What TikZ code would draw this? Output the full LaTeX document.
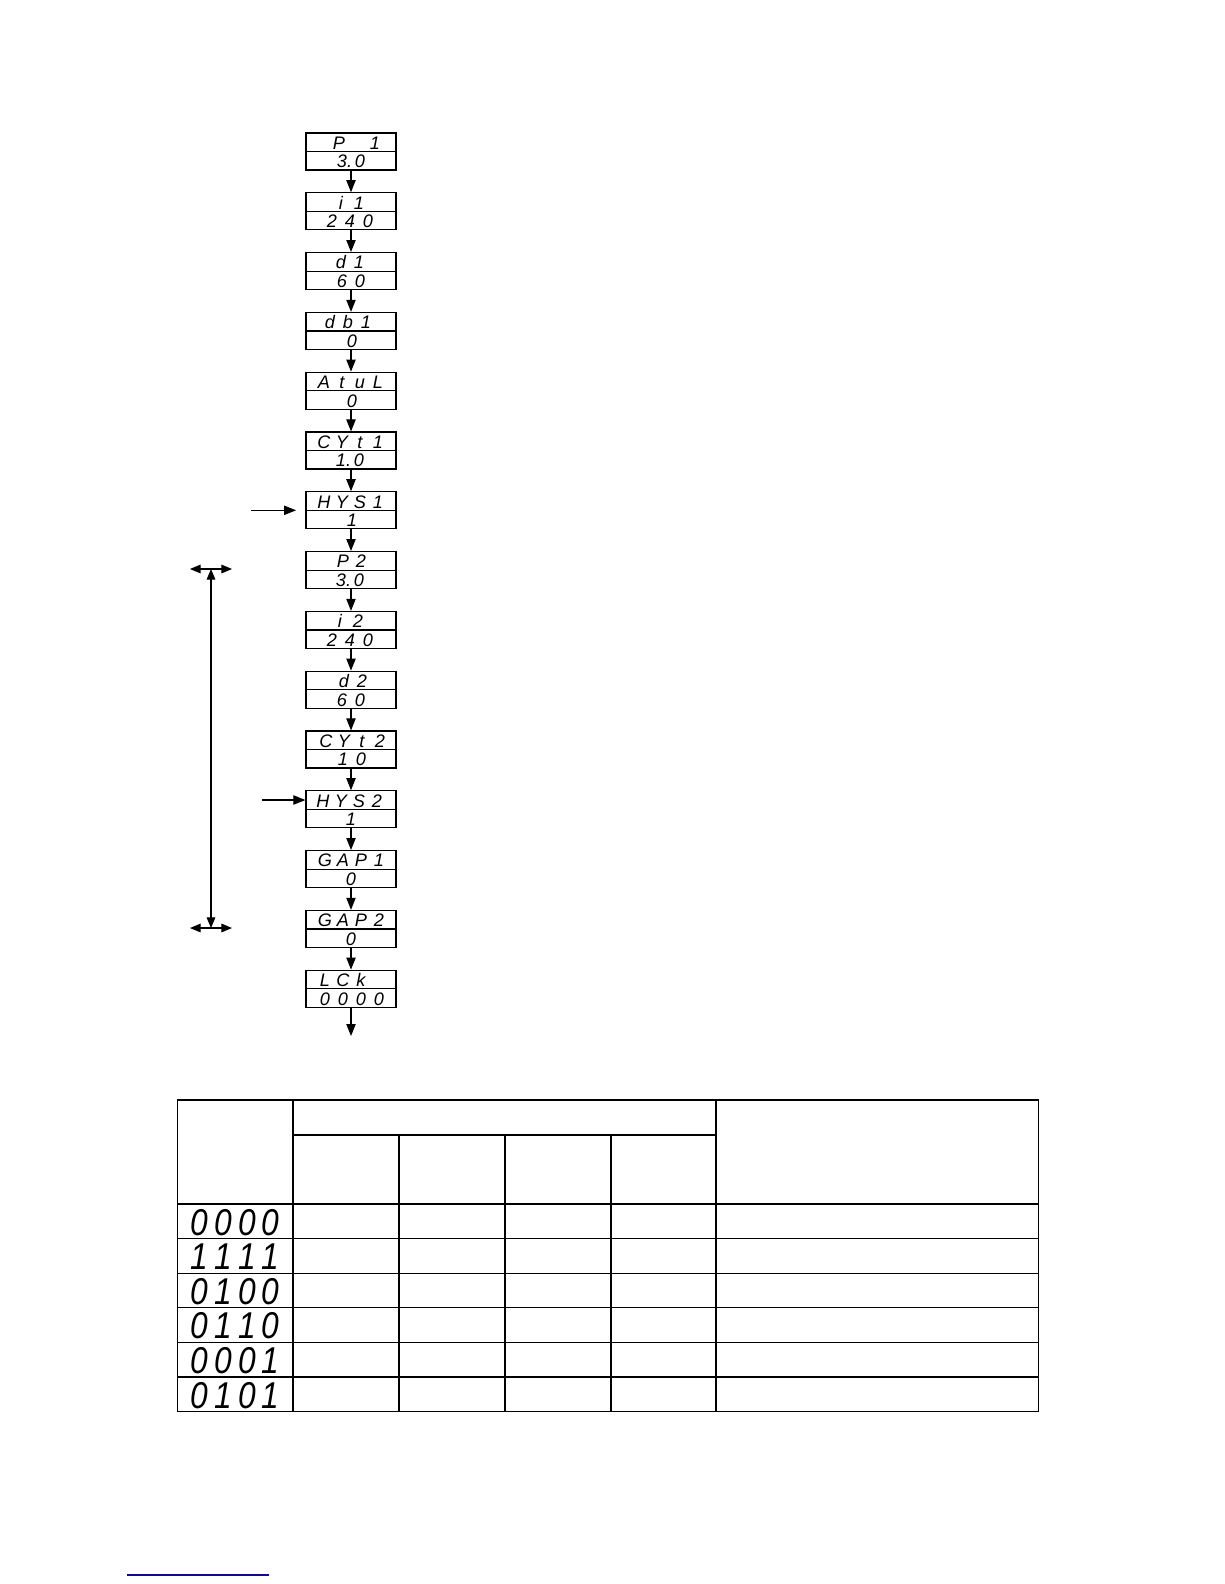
\documentclass[tikz,border=0pt]{standalone}
\usepackage{fontspec}
\usepackage{graphicx}
\usetikzlibrary{arrows.meta,calc}
\newfontfamily\lcdfont{Liberation Sans}
\newcommand\lc[1]{\makebox[13.5pt]{#1}}
\newcommand\tc[1]{\makebox[17.85pt]{\scalebox{0.85}[1]{#1}}}
\definecolor{linkblue}{RGB}{10,10,150}
\newcommand\lcdunit[6]{%
  \node[lcdbox] (#1) at (351,#2+18.5) {};
  \draw[line width=0.9pt] (#1.west) -- (#1.east);
  \node[seg] (#1t) at (#3,#2+16.3) {#4};
  \node[seg] (#1b) at (#5,#2+34.8) {#6};}
\begin{document}
\begin{tikzpicture}[x=0.75pt,y=-0.75pt,
  lcdbox/.style={draw,line width=0.9pt,minimum width=67.5pt,minimum height=27.75pt,inner sep=0pt},
  seg/.style={font=\lcdfont\itshape\fontsize{13.6pt}{14pt}\selectfont,inner sep=0pt,anchor=base},
  tseg/.style={font=\lcdfont\itshape\fontsize{28pt}{29pt}\selectfont,inner sep=0pt,anchor=base},
  flow/.style={-{Triangle[length=9pt,width=7pt]},line width=0.8pt},
  both/.style={{Triangle[length=8pt,width=6.5pt]}-{Triangle[length=8pt,width=6.5pt]},line width=0.8pt},
  grid/.style={line width=0.9pt}]
\useasboundingbox (0,0) rectangle (1224,1584);

% display column
\lcdunit{b0}{133}{357}{\lc{P}\lc{}\lc{1}}{351}{\lc{3\rlap{.}}\lc{0}}
\lcdunit{b1}{192.8}{350}{\lc{i}\lc{1}}{350}{\lc{2}\lc{4}\lc{0}}
\lcdunit{b2}{252.6}{350}{\lc{d}\lc{1}}{351}{\lc{6}\lc{0}}
\lcdunit{b3}{312.4}{348}{\lc{d}\lc{b}\lc{1}}{352}{\lc{0}}
\lcdunit{b4}{372.2}{351}{\lc{A}\lc{t}\lc{u}\lc{L}}{352}{\lc{0}}
\lcdunit{b5}{432}{351}{\lc{C}\lc{Y}\lc{t}\lc{1}}{350}{\lc{1\rlap{.}}\lc{0}}
\lcdunit{b6}{491.8}{351}{\lc{H}\lc{Y}\lc{S}\lc{1}}{352}{\lc{1}}
\lcdunit{b7}{551.6}{352}{\lc{P}\lc{2}}{350}{\lc{3\rlap{.}}\lc{0}}
\lcdunit{b8}{611.4}{349}{\lc{i}\lc{2}}{350}{\lc{2}\lc{4}\lc{0}}
\lcdunit{b9}{671.2}{353}{\lc{d}\lc{2}}{351}{\lc{6}\lc{0}}
\lcdunit{b10}{731}{353}{\lc{C}\lc{Y}\lc{t}\lc{2}}{352}{\lc{1}\lc{0}}
\lcdunit{b11}{790.8}{350}{\lc{H}\lc{Y}\lc{S}\lc{2}}{351}{\lc{1}}
\lcdunit{b12}{850.6}{352}{\lc{G}\lc{A}\lc{P}\lc{1}}{351}{\lc{0}}
\lcdunit{b13}{910.4}{352}{\lc{G}\lc{A}\lc{P}\lc{2}}{351}{\lc{0}}
\lcdunit{b14}{970.2}{343}{\lc{L}\lc{C}\lc{k}}{352}{\lc{0}\lc{0}\lc{0}\lc{0}}

\foreach \a/\b in {b0/b1,b1/b2,b2/b3,b3/b4,b4/b5,b5/b6,b6/b7,b7/b8,b8/b9,b9/b10,b10/b11,b11/b12,b12/b13,b13/b14}
  \draw[flow] (\a.south) -- (\b.north);
\coordinate (flowend) at (351,1036);
\draw[flow] (b14.south) -- (flowend);

% side entry arrows
\coordinate (in1) at (251,510.3);
\draw[flow,shorten >=7pt] (in1) -- (b6.west |- in1);
\coordinate (in2) at (262,800);
\draw[flow] (in2) -- (b11.west |- in2);

% range bracket
\coordinate (vt) at (211,569);
\coordinate (vb) at (211,928);
\coordinate (tl) at (190,569);
\coordinate (tr) at (232,569);
\coordinate (bl) at (190,928);
\coordinate (br) at (232,928);
\draw[both] (vt) -- (vb);
\draw[both] (tl) -- (tr);
\draw[both] (bl) -- (br);

% table
\draw[grid] (177.7,1100) rectangle (1038.3,1411.6);
\draw[grid] (293,1100) -- (293,1411.6);
\draw[grid] (716,1100) -- (716,1411.6);
\draw[grid] (293,1135) -- (716,1135);
\foreach \x in {399,505,611} \draw[grid] (\x,1135) -- (\x,1411.6);
\foreach \y in {1204,1238.6,1273.2,1307.8,1342.4,1377} \draw[grid] (177.7,\y) -- (1038.3,\y);

\node[tseg] (r1) at (235,1235) {\tc{0}\tc{0}\tc{0}\tc{0}};
\node[tseg] (r2) at (235,1269.6) {\tc{1}\tc{1}\tc{1}\tc{1}};
\node[tseg] (r3) at (235,1304.2) {\tc{0}\tc{1}\tc{0}\tc{0}};
\node[tseg] (r4) at (235,1338.8) {\tc{0}\tc{1}\tc{1}\tc{0}};
\node[tseg] (r5) at (235,1373.4) {\tc{0}\tc{0}\tc{0}\tc{1}};
\node[tseg] (r6) at (235,1408) {\tc{0}\tc{1}\tc{0}\tc{1}};

% link underline
\draw[linkblue,line width=1pt] (127,1575) -- (269,1575);
\end{tikzpicture}
\end{document}
